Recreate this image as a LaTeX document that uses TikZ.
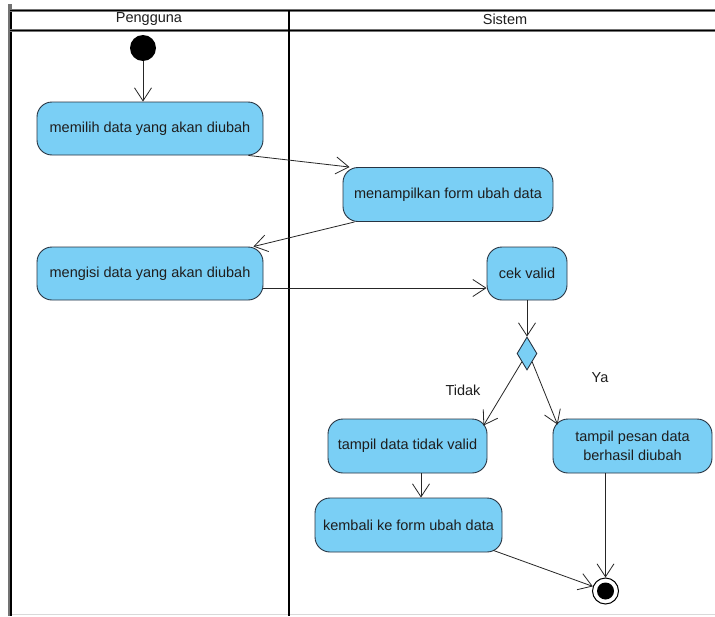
\documentclass[tikz,border=0pt]{standalone}
\usepackage{fontspec}
\setmainfont{Liberation Sans}
\usetikzlibrary{arrows.meta,shapes.geometric,calc}
\definecolor{actfill}{RGB}{122,207,245}
\definecolor{actline}{RGB}{40,52,66}
\definecolor{txt}{RGB}{30,30,30}
\tikzset{
  act/.style={draw=actline, fill=actfill, rounded corners=15pt, line width=0.9pt,
    inner sep=0pt, align=center, text=txt, font=\fontsize{14.5}{19.5}\selectfont},
  flow/.style={draw=black!85, line width=0.8pt, -{Straight Barb[length=13pt,width=17pt]}},
  lane/.style={line width=2pt, draw=black},
  lbl/.style={font=\fontsize{14.5}{16}\selectfont, text=txt, inner sep=0pt},
}
\begin{document}
\begin{tikzpicture}[x=1pt,y=-1pt]
\useasboundingbox (0,0) rectangle (715,616);
\fill[white] (0,0) rectangle (715,616);
% swimlane frame
\draw[line width=1pt, draw=black!15] (10,614) -- (715,614);
\draw[line width=3.2pt, draw=black!55] (10,4) -- (10,616);
\draw[line width=1.6pt, draw=black] (10.8,9) -- (10.8,616);
\draw[line width=3pt, draw=black!55] (10,10) -- (715,10);
\draw[line width=1.5pt, draw=black] (10,10.5) -- (715,10.5);
\draw[line width=3pt, draw=black!55] (10,30) -- (715,30);
\draw[line width=1.5pt, draw=black] (10,30.5) -- (715,30.5);
\draw[lane] (288.5,10) -- (288.5,616);
\node[lbl] (hp) at (149,19) {Pengguna};
\node[lbl] (hs) at (505,19) {Sistem};
% nodes
\node[circle, fill=black, minimum size=26pt, inner sep=0pt] (start) at (143,48) {};
\node[act, minimum width=226pt, minimum height=53pt] (memilih) at (150,128.5) {memilih data yang akan diubah};
\node[act, minimum width=210pt, minimum height=54pt] (menampilkan) at (448,194.5) {menampilkan form ubah data};
\node[act, minimum width=226pt, minimum height=53pt] (mengisi) at (150,273.5) {mengisi data yang akan diubah};
\node[act, minimum width=80pt, minimum height=53pt] (cek) at (527,273.5) {cek valid};
\node[diamond, draw=actline, fill=actfill, line width=0.9pt, minimum width=20pt, minimum height=33pt, inner sep=0pt] (dec) at (527,353.5) {};
\node[act, minimum width=159pt, minimum height=54pt] (tidak) at (407.5,446) {tampil data tidak valid};
\node[act, minimum width=159pt, minimum height=54pt] (pesan) at (632.5,446) {tampil pesan data\\berhasil diubah};
\node[act, minimum width=187pt, minimum height=54pt] (kembali) at (408.5,525) {kembali ke form ubah data};
\node[circle, draw=black, line width=1pt, fill=white, minimum size=26pt, inner sep=0pt,
  path picture={\fill[black] (path picture bounding box.center) circle (8.5pt);}] (end) at (605.5,591) {};
\node[lbl] (ltidak) at (463,390) {Tidak};
\node[lbl] (lya) at (600,378) {Ya};
% connectors
\draw[flow] (start.south) -- (start.south |- memilih.north);
\draw[flow] ($(memilih.south east)+(-15,0)$) -- ($(menampilkan.north west)+(7,0)$);
\draw[flow] ($(menampilkan.south west)+(12,0)$) -- ($(mengisi.north east)+(-10,0)$);
\coordinate (m1) at ($(mengisi.east)+(0,14.5)$);
\draw[flow] (m1) -- (m1 -| cek.west);
\draw[flow] (cek.south) -- (dec.north);
\draw[flow] (dec.south west) -- ($(tidak.north east)+(-4,7)$);
\draw[flow] (dec.south east) -- ($(pesan.north west)+(5,6)$);
\coordinate (t1) at ($(tidak.south)+(13.5,0)$);
\draw[flow] (t1) -- (t1 |- kembali.north);
\draw[flow] ($(kembali.south east)+(-9,-2)$) -- (end.160);
\draw[flow] (end |- pesan.south) -- (end.north);
\end{tikzpicture}
\end{document}
